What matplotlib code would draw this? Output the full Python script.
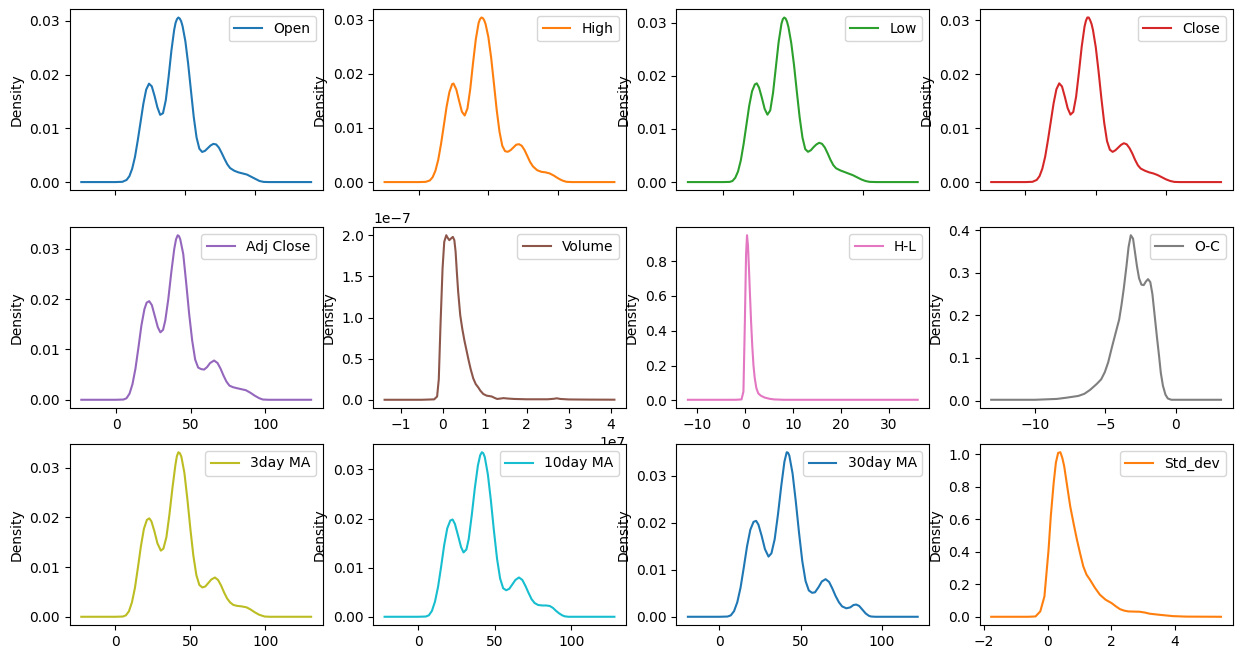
import matplotlib
matplotlib.use("Agg")
import matplotlib.pyplot as plt
from matplotlib.ticker import MultipleLocator
import numpy as np

# ---- data (x, density) ----
open_pts = [(-24.4, 0), (0, 0), (5, 0.00005), (8, 0.0004), (10, 0.0011), (12, 0.0025), (14, 0.0047),
            (16, 0.0078), (18, 0.0112), (20, 0.0146), (22, 0.0172), (24, 0.0183), (26, 0.0178),
            (28, 0.0160), (30, 0.0139), (32, 0.0125), (34, 0.0128), (36, 0.0152), (38, 0.0195),
            (40, 0.0244), (42, 0.0283), (43, 0.0296), (44, 0.0303), (45, 0.0306), (46, 0.0304),
            (47, 0.0299), (48, 0.0290), (50, 0.0262), (52, 0.0220), (54, 0.0170), (56, 0.0121),
            (58, 0.0083), (60, 0.0062), (62, 0.0056), (64, 0.0058), (66, 0.0063), (68, 0.0068),
            (70, 0.0071), (72, 0.0070), (74, 0.0064), (76, 0.0054), (78, 0.0043), (80, 0.0033),
            (82, 0.0026), (85, 0.0021), (88, 0.0018), (91, 0.0016), (94, 0.0014), (97, 0.0010),
            (100, 0.0006), (103, 0.0002), (106, 0.00003), (110, 0), (139.9, 0)]

high_pts = [(-24.5, 0), (0, 0), (5, 0.00004), (8, 0.0003), (10, 0.0009), (12, 0.0021), (14, 0.0041),
            (16, 0.0070), (18, 0.0104), (20, 0.0139), (22, 0.0166), (24, 0.0181), (25, 0.0182),
            (27, 0.0171), (29, 0.0150), (31, 0.0130), (33, 0.0123), (35, 0.0136), (37, 0.0172),
            (39, 0.0220), (41, 0.0264), (43, 0.0294), (44, 0.0301), (45, 0.0304), (46, 0.0303),
            (47, 0.0299), (48, 0.0292), (50, 0.0268), (52, 0.0230), (54, 0.0182), (56, 0.0133),
            (58, 0.0093), (60, 0.0067), (62, 0.0057), (64, 0.0056), (66, 0.0059), (68, 0.0064),
            (70, 0.0069), (72, 0.0070), (74, 0.0067), (76, 0.0059), (78, 0.0048), (80, 0.0037),
            (82, 0.0029), (85, 0.0022), (88, 0.0019), (91, 0.0018), (94, 0.0016), (97, 0.0012),
            (100, 0.0007), (103, 0.0003), (106, 0.00005), (110, 0), (140.5, 0)]

low_pts = [(-24.8, 0), (0, 0), (5, 0.00003), (7, 0.0002), (9, 0.0008), (11, 0.0020), (13, 0.0041),
           (15, 0.0072), (17, 0.0108), (19, 0.0144), (21, 0.0171), (23, 0.0184), (24.4, 0.0186),
           (26, 0.0178), (28, 0.0159), (30, 0.0138), (32, 0.0127), (34, 0.0135), (36, 0.0168),
           (38, 0.0216), (40, 0.0264), (42, 0.0298), (43, 0.0307), (44, 0.0310), (45, 0.0308),
           (46, 0.0302), (47, 0.0292), (49, 0.0262), (51, 0.0220), (53, 0.0170), (55, 0.0122),
           (57, 0.0084), (59, 0.0062), (61, 0.0057), (63, 0.0060), (65, 0.0066), (67, 0.0071),
           (69, 0.0074), (71, 0.0072), (73, 0.0065), (75, 0.0054), (77, 0.0042), (79, 0.0032),
           (81, 0.0026), (84, 0.0022), (87, 0.0019), (90, 0.0016), (93, 0.0013), (96, 0.0009),
           (99, 0.0005), (102, 0.0002), (105, 0.00004), (110, 0), (139.3, 0)]

close_pts = [(-24.4, 0), (0, 0), (5, 0.00005), (8, 0.0004), (10, 0.0011), (12, 0.0025), (14, 0.0047),
             (16, 0.0078), (18, 0.0112), (20, 0.0146), (22, 0.0172), (24, 0.0183), (26, 0.0177),
             (28, 0.0158), (30, 0.0137), (32, 0.0125), (34, 0.0130), (36, 0.0158), (38, 0.0203),
             (40, 0.0251), (42, 0.0288), (43, 0.0299), (44, 0.0305), (45, 0.0305), (46, 0.0300),
             (47, 0.0293), (48, 0.0282), (50, 0.0250), (52, 0.0205), (54, 0.0155), (56, 0.0110),
             (58, 0.0076), (60, 0.0060), (62, 0.0056), (64, 0.0059), (66, 0.0064), (68, 0.0069),
             (70, 0.0072), (72, 0.0070), (74, 0.0063), (76, 0.0053), (78, 0.0041), (80, 0.0031),
             (82, 0.0025), (85, 0.0021), (88, 0.0018), (91, 0.0016), (94, 0.0013), (97, 0.0009),
             (100, 0.0005), (103, 0.0002), (106, 0.00003), (110, 0), (139.1, 0)]

adj_close_pts = [(-23.3, 0), (0, 0), (5, 0.00005), (7, 0.0003), (9, 0.0012), (11, 0.0031), (13, 0.0062),
                 (15, 0.0104), (17, 0.0148), (19, 0.0180), (20.5, 0.0193), (22.2, 0.0196), (24, 0.0188),
                 (26, 0.0166), (28, 0.0144), (29.7, 0.0134), (31.5, 0.0139), (33, 0.0158), (35, 0.0200),
                 (37, 0.0253), (39, 0.0300), (40.2, 0.0319), (41.3, 0.0327), (42.2, 0.0325),
                 (43, 0.0319), (45, 0.0290), (47, 0.0232),
                 (49, 0.0170), (51, 0.0118), (53, 0.0080), (55, 0.0064), (57, 0.0061), (59, 0.0060),
                 (61, 0.0065), (63, 0.0073), (65.7, 0.0078), (68, 0.0073), (70, 0.0062), (72, 0.0048),
                 (74, 0.0036), (76, 0.0028), (78.4, 0.0025), (81, 0.0023), (84, 0.0021), (87, 0.0019),
                 (90, 0.0014), (93, 0.0008), (96, 0.0003), (98.4, 0.00005), (102, 0), (130.7, 0)]

volume_pts = [(-1.38, 0), (-0.5, 0), (-0.2, 0.005), (-0.13, 0.04), (-0.09, 0.25), (-0.05, 0.9),
              (0.0, 1.6), (0.04, 1.92), (0.088, 2.0), (0.12, 1.97), (0.16, 1.94), (0.2, 1.96),
              (0.245, 1.98), (0.28, 1.94), (0.31, 1.8), (0.34, 1.55), (0.37, 1.32), (0.42, 1.03),
              (0.47, 0.86), (0.52, 0.72), (0.57, 0.60), (0.62, 0.48), (0.67, 0.37), (0.73, 0.26),
              (0.79, 0.19), (0.85, 0.15), (0.9, 0.11), (0.97, 0.07), (1.05, 0.05), (1.17, 0.04),
              (1.25, 0.02), (1.3, 0.01), (1.38, 0.015), (1.45, 0.02), (1.55, 0.015), (1.7, 0.01),
              (2.0, 0.006), (2.5, 0.006), (2.65, 0.012), (2.72, 0.018), (2.8, 0.01), (3.0, 0.004),
              (3.5, 0.002), (4.09, 0.001)]

hl_pts = [(-12, 0.003), (-2, 0.003), (-0.8, 0.005), (-0.4, 0.05), (-0.1, 0.45), (0.15, 0.84),
          (0.35, 0.949), (0.55, 0.89), (0.75, 0.76), (0.95, 0.62), (1.2, 0.45), (1.45, 0.31),
          (1.7, 0.2), (1.95, 0.13), (2.3, 0.07), (2.7, 0.04), (3.2, 0.027), (4.0, 0.016),
          (5, 0.009), (6, 0.005), (8, 0.003), (36, 0.003)]

oc_pts = [(-13.14, 0.002), (-10, 0.002), (-8.46, 0.004), (-7.75, 0.007), (-6.93, 0.011), (-6.5, 0.016),
          (-6.10, 0.025), (-5.62, 0.039), (-5.3, 0.05), (-5.04, 0.067), (-4.8, 0.09), (-4.56, 0.122),
          (-4.3, 0.155), (-4.02, 0.19), (-3.85, 0.225), (-3.69, 0.263), (-3.5, 0.315), (-3.35, 0.36),
          (-3.19, 0.388), (-3.03, 0.38), (-2.9, 0.35), (-2.75, 0.315), (-2.6, 0.287), (-2.43, 0.272),
          (-2.27, 0.271), (-2.1, 0.28), (-1.96, 0.285), (-1.8, 0.278), (-1.65, 0.25), (-1.49, 0.2),
          (-1.33, 0.15), (-1.18, 0.106), (-1.05, 0.065), (-0.9, 0.035), (-0.72, 0.014),
          (-0.55, 0.005), (-0.3, 0.002), (3.24, 0.002)]

ma3_pts = [(-22.8, 0), (0, 0), (5, 0.00005), (7, 0.0003), (9, 0.0011), (11, 0.0029), (13, 0.0058),
           (15, 0.0099), (17, 0.0142), (19, 0.0177), (21, 0.0195), (22.6, 0.0198), (24, 0.0192),
           (26, 0.0172), (28, 0.0148), (30.3, 0.0133), (32, 0.0137), (34, 0.0160), (36, 0.0205),
           (38, 0.0258), (40, 0.0305), (41, 0.0323), (42, 0.0331), (43, 0.0329), (44, 0.0322),
           (46, 0.0290), (48, 0.0237),
           (50, 0.0177), (52, 0.0123), (54, 0.0084), (56, 0.0064), (58, 0.0059), (60, 0.0061),
           (62, 0.0068), (64, 0.0075), (66.4, 0.0079), (68.5, 0.0074), (70.5, 0.0063), (72.5, 0.0049),
           (74.5, 0.0037), (76.5, 0.0029), (78.6, 0.0024), (81, 0.0022), (84, 0.0021), (87.5, 0.0019),
           (90, 0.0015), (93, 0.0009), (96, 0.0004), (99.6, 0.00005), (103, 0), (130.6, 0)]

ma10_pts = [(-21.9, 0), (0, 0), (5, 0.00005), (7, 0.0003), (9, 0.0012), (11, 0.0031), (13, 0.0061),
            (15, 0.0102), (17, 0.0146), (19, 0.0180), (21, 0.0196), (22.5, 0.0198), (24, 0.0189),
            (26, 0.0166), (28, 0.0142), (29.6, 0.0131), (31.5, 0.0137), (33, 0.0158), (35, 0.0207),
            (37, 0.0262), (39, 0.0308), (40.5, 0.0329), (41.6, 0.0335), (42.5, 0.0333),
            (43.5, 0.0325), (45.5, 0.0290), (47.5, 0.0236),
            (49.5, 0.0174), (51.5, 0.0118), (53.5, 0.0078), (55.5, 0.0058), (57.5, 0.0054),
            (59.5, 0.0057), (61.5, 0.0066), (63.5, 0.0075), (65.8, 0.0080), (68, 0.0075), (70, 0.0063),
            (72, 0.0049), (74, 0.0036), (76, 0.0028), (78.3, 0.0024), (81, 0.0023), (83.5, 0.0023),
            (85.9, 0.0022), (88, 0.0018), (90, 0.0012), (92, 0.0007), (94, 0.0003), (95.6, 0.0001),
            (98, 0), (128.1, 0)]

ma30_pts = [(-19.4, 0), (0, 0), (5, 0.00005), (7, 0.0003), (9, 0.0012), (11, 0.0031), (13, 0.0062),
            (15, 0.0105), (17, 0.0150), (19, 0.0185), (21, 0.0202), (22.6, 0.0204), (24, 0.0196),
            (26, 0.0172), (28, 0.0144), (30.2, 0.0128), (32, 0.0135), (34, 0.0165), (36, 0.0217),
            (38, 0.0277), (40, 0.0330), (41.4, 0.0350), (42.2, 0.0349), (43, 0.0343), (45, 0.0305),
            (47, 0.0245),
            (49, 0.0178), (51, 0.0118), (53, 0.0076), (55, 0.0056), (57, 0.0051), (58.8, 0.0052),
            (61, 0.0063), (63, 0.0075), (65.3, 0.0080), (67.5, 0.0074), (69.5, 0.0060), (71.5, 0.0044),
            (73.5, 0.0031), (75.5, 0.0022), (78.1, 0.0018), (80.5, 0.0020), (82.5, 0.0025),
            (84.2, 0.0026), (86, 0.0023), (88, 0.0015), (90, 0.0007), (92, 0.0002), (93.4, 0.00005),
            (96, 0), (122, 0)]

std_pts = [(-1.77, 0), (-0.6, 0), (-0.38, 0.002), (-0.23, 0.033), (-0.1, 0.125), (0.03, 0.414),
           (0.1, 0.62), (0.19, 0.825), (0.26, 0.95), (0.33, 1.01), (0.40, 1.014), (0.46, 0.98),
           (0.52, 0.928), (0.61, 0.81), (0.71, 0.68), (0.82, 0.57), (0.92, 0.475), (1.02, 0.39),
           (1.12, 0.31), (1.22, 0.26), (1.33, 0.228), (1.48, 0.18), (1.64, 0.136), (1.82, 0.105),
           (2.01, 0.084), (2.15, 0.063), (2.27, 0.047), (2.4, 0.038), (2.53, 0.033), (2.7, 0.032),
           (2.89, 0.031), (3.05, 0.026), (3.20, 0.019), (3.52, 0.012), (3.93, 0.004), (4.35, 0.001),
           (5.44, 0)]

series_names = ["Open", "High", "Low", "Close", "Adj Close", "Volume", "H-L", "O-C",
                "3day MA", "10day MA", "30day MA", "Std_dev"]
series_pts = [open_pts, high_pts, low_pts, close_pts, adj_close_pts, volume_pts, hl_pts, oc_pts,
              ma3_pts, ma10_pts, ma30_pts, std_pts]
# Volume read in units of 1e7 (x) and 1e-7 (density)
series_scale = [(1, 1)] * 5 + [(1e7, 1e-7)] + [(1, 1)] * 6
colors = ["C0", "C1", "C2", "C3", "C4", "C5", "C6", "C7", "C8", "C9", "C0", "C1"]

W, H = 1242, 659
fig = plt.figure(figsize=(W / 100, H / 100), dpi=100)

col_left = [69.8, 373.1, 676.4, 979.7]
row_top = [9.3, 227.0, 444.0]
ax_w, ax_h = 252.8, 181.0

for i, (name, pts) in enumerate(zip(series_names, series_pts)):
    r, c = divmod(i, 4)
    ax = fig.add_axes([col_left[c] / W, 1 - (row_top[r] + ax_h) / H, ax_w / W, ax_h / H])
    sx, sy = series_scale[i]
    xs = np.array([p[0] for p in pts]) * sx
    ys = np.array([p[1] for p in pts]) * sy
    ax.plot(xs, ys, color=colors[i], label=name, lw=1.5)
    ax.set_ylabel("Density")
    ax.legend(loc="upper right")
    if name == "Volume":
        ax.xaxis.set_major_locator(MultipleLocator(1e7))
    if r == 0:
        ax.tick_params(axis="x", labelbottom=False)

fig.savefig("out.png", dpi=100)
